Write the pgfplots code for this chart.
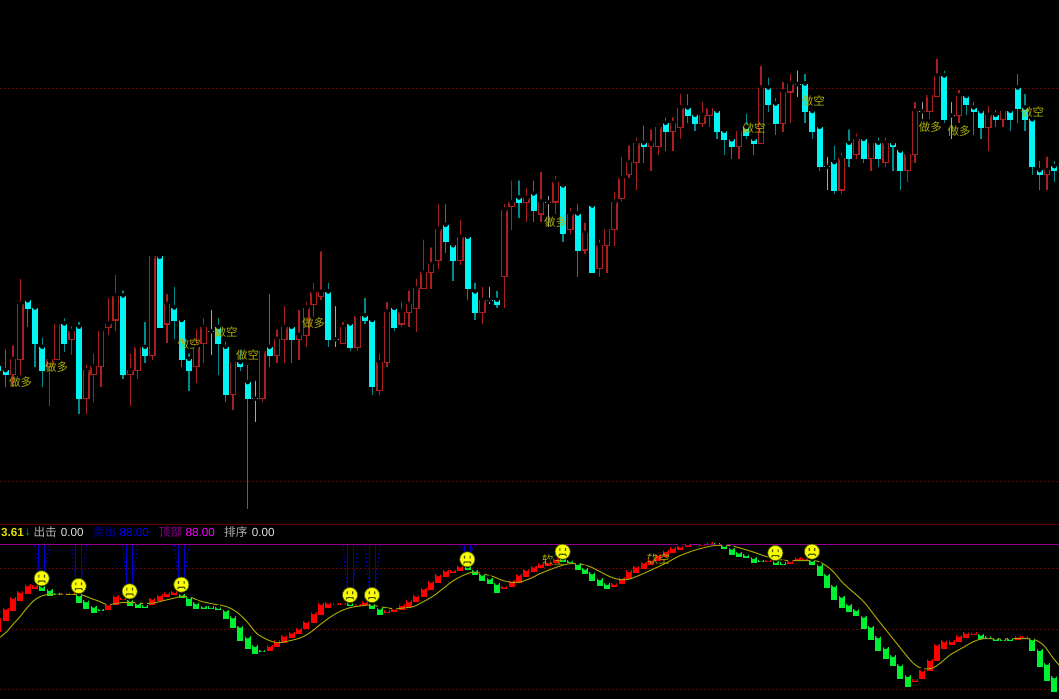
\documentclass[border=0pt]{standalone}
\usepackage{fontspec}
\usepackage{pgfplots}
\usepackage{pgfplotstable}
\pgfplotsset{compat=1.18}
\setmainfont{Liberation Sans}
\newfontfamily\cjk{Noto Sans CJK SC}

\definecolor{wickred}{RGB}{170,32,32}
\definecolor{wickteal}{RGB}{0,140,140}
\definecolor{bodycyan}{RGB}{0,245,245}
\definecolor{dojigrey}{RGB}{165,165,165}
\definecolor{gridred}{RGB}{105,0,0}
\definecolor{signal}{RGB}{175,175,10}
\definecolor{barred}{RGB}{255,0,0}
\definecolor{bargreen}{RGB}{0,240,50}
\definecolor{maline}{RGB}{165,165,0}
\definecolor{smileface}{RGB}{250,250,0}
\definecolor{smileedge}{RGB}{70,90,0}

\pgfdeclareplotmark{smiley}{%
  \pgfsetfillcolor{smileface}\pgfsetstrokecolor{smileedge}\pgfsetlinewidth{0.7pt}%
  \pgfpathcircle{\pgfpointorigin}{7.6pt}\pgfusepathqfillstroke
  \pgfsetlinewidth{1.2pt}%
  \pgfpathmoveto{\pgfpoint{-2.8pt}{0.8pt}}\pgfpathlineto{\pgfpoint{-2.8pt}{3.6pt}}%
  \pgfpathmoveto{\pgfpoint{2.8pt}{0.8pt}}\pgfpathlineto{\pgfpoint{2.8pt}{3.6pt}}%
  \pgfpathmoveto{\pgfpoint{-3.8pt}{-4.2pt}}\pgfpathlineto{\pgfpoint{-2.8pt}{-2.6pt}}%
  \pgfpathlineto{\pgfpoint{2.8pt}{-2.6pt}}\pgfpathlineto{\pgfpoint{3.8pt}{-4.2pt}}%
  \pgfusepathqstroke
}

% candles: x = 17+22*i, y in thirds of a pixel from the top of the panel
\pgfplotstableread{
i hi top bot lo
1 1030 1078 1124 1160
2 830 913 1078 1125
6 1066 1078 1100 1218
7 960 972 1078 1078
9 972 994 1018 1066
11 1088 1112 1196 1242
12 1054 1100 1124 1206
13 982 994 1100 1160
14 888 972 982 1006
15 818 888 960 994
17 1054 1112 1124 1218
18 1030 1042 1112 1136
20 760 770 1066 1080
22 876 913 972 1030
26 982 1042 1100 1148
27 948 982 1030 1088
31 1078 1088 1184 1230
35 1042 1054 1196 1206
37 982 1018 1066 1088
38 912 982 1018 1088
40 924 1006 1018 1080
41 900 924 1006 1042
42 842 877 913 950
43 748 877 889 900
46 960 982 1030 1030
48 948 948 1042 1054
51 1054 1088 1172 1184
52 900 936 1088 1100
54 900 936 972 982
55 865 913 937 982
56 830 866 925 995
57 712 818 866 866
58 736 794 818 866
59 606 688 782 806
62 652 712 782 794
65 854 901 937 972
68 606 630 830 925
69 535 607 619 690
71 558 595 607 666
73 510 606 642 666
75 522 546 606 642
77 618 642 688 702
79 662 700 750 762
81 712 736 806 830
82 676 688 736 818
83 570 606 688 738
84 464 535 595 606
85 430 487 523 535
86 406 430 487 570
88 382 430 440 512
89 370 382 440 464
91 346 370 394 452
92 276 324 382 418
95 300 346 370 382
96 312 324 346 382
100 382 394 440 476
103 192 264 430 430
106 240 276 370 395
107 216 252 276 370
114 452 475 570 582
116 394 418 464 476
118 418 430 476 512
120 406 430 488 500
123 452 464 512 546
124 300 334 464 488
126 276 287 334 358
127 170 228 289 289
130 264 288 346 370
134 312 346 382 452
136 324 334 358 382
142 464 512 524 570
}\redcandles

\pgfplotstableread{
i hi top bot lo
-1 1100 1100 1112 1112
0 1042 1112 1124 1160
3 901 901 925 982
4 913 924 1030 1100
5 1006 1042 1112 1160
8 948 972 1030 1055
10 960 982 1196 1242
16 865 888 1124 1136
19 960 1042 1066 1088
21 770 770 982 982
23 854 924 960 1018
24 960 960 1078 1100
25 1054 1078 1112 1172
29 948 982 1030 1124
30 1018 1042 1184 1206
32 1042 1088 1100 1112
33 1088 1148 1196 1527
36 876 1042 1067 1100
39 972 982 1018 1088
44 842 876 1018 1042
47 960 972 1042 1054
49 888 948 960 972
50 960 960 1160 1184
53 924 924 982 994
60 606 676 725 760
61 736 736 782 842
63 700 712 866 900
64 842 876 936 960
67 866 901 913 925
70 535 594 606 654
72 535 582 630 666
76 546 558 700 726
78 606 642 750 830
80 606 618 818 818
87 370 430 440 488
90 346 370 394 452
93 276 324 346 370
94 334 346 370 394
97 324 334 394 418
98 382 394 418 464
99 418 418 440 476
101 334 382 406 418
102 406 418 430 464
104 226 264 313 335
105 288 312 370 406
109 216 252 335 370
110 325 335 395 418
111 370 382 500 512
113 430 488 570 582
115 382 430 476 500
117 406 418 476 488
119 406 430 476 500
121 430 430 440 512
122 452 452 512 570
128 205 228 358 370
131 288 288 312 346
132 300 324 335 406
133 334 334 382 418
135 324 346 358 382
137 324 334 358 394
138 216 264 324 370
139 276 324 358 394
140 358 358 500 524
141 476 512 524 570
143 476 500 512 546
}\cyancandles

\pgfplotstableread{
i hi mid lo
28 924 994 1066
34 1136 1196 1266
45 912 1018 1042
66 854 900 912
74 582 606 680
108 205 252 290
112 464 500 570
125 300 334 358
129 300 346 418
}\dojis

% indicator bars: same x, y in thirds of a pixel from the top of the panel
\pgfplotstableread{
i top bot
-1 296 334
0 264 302
1 232 270
2 214 242
3 194 220
4 195 204
8 220 223
9 218 222
14 252 268
15 226 252
16 234 238
20 234 254
21 224 240
22 218 230
23 214 222
36 376 390
37 362 380
38 346 366
39 336 352
40 324 340
41 304 326
42 278 308
43 250 282
44 248 262
45 250 254
46 250 252
48 252 255
49 244 252
52 272 276
53 265 273
54 254 268
55 242 260
56 226 244
57 204 228
58 184 208
59 164 188
60 150 170
61 150 156
62 138 152
68 198 204
69 180 198
70 162 186
71 148 168
72 138 154
73 130 142
74 125 136
75 115 128
83 190 198
84 172 190
85 152 174
86 138 158
87 126 144
88 118 134
89 102 120
90 92 108
91 82 96
92 78 88
93 72 80
95 72 75
96 68 74
104 120 124
107 122 130
108 112 122
109 114 120
124 478 484
125 450 474
126 418 452
127 372 420
128 362 386
129 362 372
130 346 364
131 338 352
132 338 344
138 348 358
139 349 353
}\redbars

\pgfplotstableread{
i top bot
5 198 210
6 208 227
7 219 223
10 224 246
11 242 264
12 258 278
13 267 272
17 240 256
18 249 262
19 256 262
24 222 232
25 232 256
26 248 266
27 258 264
28 260 264
29 262 268
30 270 294
31 290 322
32 318 360
33 350 386
34 376 400
35 390 394
47 250 256
50 252 266
51 264 284
63 140 148
64 150 164
65 162 180
66 174 190
67 190 216
76 116 124
77 122 128
78 130 148
79 144 160
80 158 180
81 176 196
82 190 204
97 70 76
98 76 86
99 84 102
100 96 110
101 104 112
102 112 128
103 120 123
105 124 134
106 128 132
110 120 134
111 134 166
112 162 202
113 196 238
114 228 262
115 252 274
116 268 286
117 288 324
118 318 358
119 350 392
120 382 414
121 406 436
122 434 476
123 466 498
133 342 354
134 350 356
135 354 362
136 357 360
137 355 362
140 356 390
141 388 440
142 430 480
143 470 514
}\greenbars

\pgfplotsset{
  panel/.style={scale only axis, width=1059pt, xmin=0, xmax=3177, ymin=0, y dir=reverse,
    xtick=\empty, ytick=\empty, axis line style={draw=none},
    axis background/.style={fill=black}},
  vbar/.style n args={2}{only marks, mark=none, forget plot, error bars/.cd, y dir=plus, y explicit,
    error mark=none, error bar style={line width=#1, color=#2, solid}},
  gridline/.style={color=gridred, line width=0.9pt, dash pattern=on 1.5pt off 2.5pt, forget plot},
}
\tikzset{
  sig/.style={font=\cjk\fontsize{11.5}{12}\selectfont, text=signal, inner sep=0pt},
  hdr/.style={anchor=west, inner sep=0pt, font=\fontsize{11.7}{13}\selectfont},
}

\begin{document}
\begin{tikzpicture}
% price panel
\begin{axis}[panel, at={(0pt,179pt)}, height=520pt, ymax=1560]
\addplot[gridline] coordinates {(0,264) (3177,264)};
\addplot[gridline] coordinates {(0,1443) (3177,1443)};
% wicks
\addplot[vbar={1.3pt}{wickred}] table[x expr=17+22*\thisrow{i}, y=hi, y error expr=\thisrow{lo}-\thisrow{hi}] {\redcandles};
\addplot[vbar={1.3pt}{wickteal}] table[x expr=17+22*\thisrow{i}, y=hi, y error expr=\thisrow{lo}-\thisrow{hi}] {\cyancandles};
\addplot[vbar={1pt}{dojigrey}] table[x expr=17+22*\thisrow{i}, y=hi, y error expr=\thisrow{lo}-\thisrow{hi}] {\dojis};
% hollow bodies
\addplot[vbar={6.4pt}{wickred}] table[x expr=17+22*\thisrow{i}, y expr=\thisrow{top}-1.5, y error expr=\thisrow{bot}-\thisrow{top}+3] {\redcandles};
\addplot[vbar={4pt}{black}] table[x expr=17+22*\thisrow{i}, y expr=\thisrow{top}+2.5, y error expr=\thisrow{bot}-\thisrow{top}-5] {\redcandles};
% filled bodies
\addplot[vbar={6.2pt}{bodycyan}] table[x expr=17+22*\thisrow{i}, y expr=\thisrow{top}-1.5, y error expr=\thisrow{bot}-\thisrow{top}+3] {\cyancandles};
% doji dashes
\addplot[only marks, mark=none, forget plot, error bars/.cd, x dir=both, x fixed=9, error mark=none,
  error bar style={line width=1pt, color=dojigrey, solid}]
  table[x expr=17+22*\thisrow{i}, y=mid] {\dojis};
\node[sig] at (axis cs:62,1146) {做多};
\node[sig] at (axis cs:170,1101) {做多};
\node[sig] at (axis cs:567,1033) {做空};
\node[sig] at (axis cs:678,996) {做空};
\node[sig] at (axis cs:743,1065) {做空};
\node[sig] at (axis cs:941,970) {做多};
\node[sig] at (axis cs:1667,665) {做多};
\node[sig] at (axis cs:2262,385) {做空};
\node[sig] at (axis cs:2440,302) {做空};
\node[sig] at (axis cs:2791,380) {做多};
\node[sig] at (axis cs:2877,393) {做多};
\node[sig] at (axis cs:3098,336) {做空};
\end{axis}
% indicator panel
\begin{axis}[panel, at={(0pt,0pt)}, height=179pt, ymax=537]
\addplot[gridline] coordinates {(0,145) (3177,145)};
\addplot[gridline] coordinates {(0,328) (3177,328)};
\addplot[gridline] coordinates {(0,508) (3177,508)};
\addplot[forget plot, color=gridred!115!white, line width=1.1pt] coordinates {(0,13) (3177,13)};
\addplot[vbar={6pt}{barred}] table[x expr=17+22*\thisrow{i}, y expr=\thisrow{top}-1.5, y error expr=\thisrow{bot}-\thisrow{top}+3] {\redbars};
\addplot[vbar={6pt}{bargreen}] table[x expr=17+22*\thisrow{i}, y expr=\thisrow{top}-1.5, y error expr=\thisrow{bot}-\thisrow{top}+3] {\greenbars};
\addplot[forget plot, color=maline, line width=1pt, smooth] coordinates {
(0,352) (20,335) (40,312) (60,290) (80,265) (100,243) (120,230) (140,224) (160,222) (200,223) (230,223)
(250,226) (270,234) (300,245) (320,254) (340,252) (370,247) (400,248) (430,250) (460,249) (490,242)
(520,235) (545,229) (570,231) (600,243) (640,252) (680,260) (710,276) (740,304) (770,340) (800,358)
(830,368) (860,364) (900,354) (930,338) (960,314) (990,292) (1020,274) (1050,263) (1080,258) (1110,255)
(1140,260) (1180,266) (1210,264) (1240,260) (1270,245) (1300,228) (1330,205) (1360,182) (1390,166)
(1420,156) (1450,162) (1480,170) (1510,182) (1535,187) (1560,186) (1590,176) (1620,161) (1650,149)
(1680,138) (1710,131) (1740,132) (1770,140) (1800,155) (1830,170) (1855,178) (1885,178) (1920,165)
(1960,147) (2000,128) (2040,107) (2080,92) (2120,81) (2150,76) (2190,77) (2220,84) (2260,96) (2300,110)
(2330,118) (2370,122) (2400,122) (2450,123) (2475,135) (2500,155) (2530,190) (2590,244) (2630,295)
(2670,345) (2710,395) (2740,430) (2765,445) (2795,445) (2820,430) (2850,405) (2890,382) (2920,365)
(2950,356) (3000,357) (3060,356) (3100,358) (3130,375) (3160,415) (3177,435)};
% blue signal strokes above the faces
\addplot[forget plot, color={rgb,255:red,0;green,0;blue,205}, line width=1pt, unbounded coords=jump] coordinates {
(116,75) (116,153) (116,nan) (134,75) (134,153) (134,nan)
(227,75) (227,176) (227,nan) (245,75) (245,176) (245,nan)
(380,75) (380,192) (380,nan) (398,75) (398,192) (398,nan)
(535,75) (535,172) (535,nan) (553,75) (553,172) (553,nan)
(1041,75) (1041,203) (1041,nan) (1059,75) (1059,203) (1059,nan)
(1107,75) (1107,203) (1107,nan) (1125,75) (1125,203) (1125,nan)
(1393,75) (1393,96) (1393,nan) (1411,75) (1411,96)};
\addplot[forget plot, color={rgb,255:red,0;green,0;blue,185}, line width=1pt, dash pattern=on 2pt off 2pt, unbounded coords=jump] coordinates {
(104,75) (116,153) (116,nan) (149,75) (134,153) (134,nan)
(215,75) (227,176) (227,nan) (260,75) (245,176) (245,nan)
(368,75) (380,192) (380,nan) (413,75) (398,192) (398,nan)
(523,75) (535,172) (535,nan) (568,75) (553,172) (553,nan)
(1029,75) (1041,203) (1041,nan) (1074,75) (1059,203) (1059,nan)
(1095,75) (1107,203) (1107,nan) (1140,75) (1125,203) (1125,nan)
(1381,75) (1393,96) (1393,nan) (1426,75) (1411,96)};
\addplot[forget plot, color={rgb,255:red,145;green,0;blue,145}, line width=1.5pt] coordinates {(0,74) (3177,74)};
\addplot[forget plot, only marks, mark=smiley] coordinates {
(125,175) (236,198) (389,214) (544,194) (1050,225) (1116,225) (1402,118) (1688,95) (2326,99) (2436,95)};
\node[sig] at (axis cs:1660,120) {软空};
\node[sig] at (axis cs:1975,118) {软空};
% header line
\node[hdr, text={rgb,255:red,225;green,225;blue,0}] at (axis cs:3,37) {\bfseries 3.61};
\node[hdr, text={rgb,255:red,0;green,190;blue,60}] at (axis cs:74,37) {\bfseries ↓};
\node[hdr, text={rgb,255:red,175;green,175;blue,175}] at (axis cs:100,37) {\cjk 出击};
\node[hdr, text={rgb,255:red,225;green,225;blue,225}] at (axis cs:182,37) {0.00};
\node[hdr, text={rgb,255:red,0;green,0;blue,150}] at (axis cs:278,37) {\cjk 卖出};
\node[hdr, text={rgb,255:red,0;green,0;blue,255}] at (axis cs:358,37) {88.00};
\node[hdr, text={rgb,255:red,140;green,0;blue,140}] at (axis cs:476,37) {\cjk 顶部};
\node[hdr, text={rgb,255:red,255;green,0;blue,255}] at (axis cs:556,37) {88.00};
\node[hdr, text={rgb,255:red,175;green,175;blue,175}] at (axis cs:672,37) {\cjk 排序};
\node[hdr, text={rgb,255:red,225;green,225;blue,225}] at (axis cs:755,37) {0.00};
\end{axis}
\end{tikzpicture}
\end{document}
